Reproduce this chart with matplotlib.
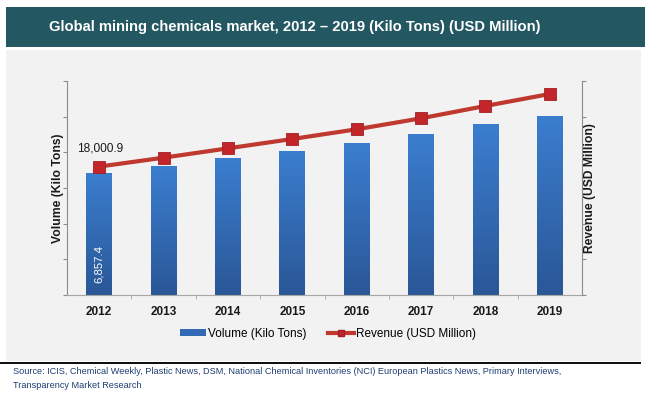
import numpy as np
import matplotlib
matplotlib.use('Agg')
import matplotlib.pyplot as plt
from matplotlib.patches import Rectangle, Patch
from matplotlib.lines import Line2D
from matplotlib.colors import LinearSegmentedColormap

plt.rcParams['font.family'] = ['Liberation Sans', 'DejaVu Sans']

years = ['2012', '2013', '2014', '2015', '2016', '2017', '2018', '2019']
volume = [6857.4, 7230, 7660, 8075, 8505, 9010, 9570, 10055]       # kilo tons
revenue = [18000.9, 19250, 20560, 21870, 23230, 24770, 26500, 28180]  # USD million

HEADER = '#235762'
PANEL = '#f2f2f2'
LINE_RED = '#c0392f'
BAR_TOP = '#3b7ecf'
BAR_BOT = '#2a5797'

fig = plt.figure(figsize=(6.5, 3.98), dpi=100, facecolor='white')
W, H = 650.0, 398.0


def fx(px):
    return px / W


def fy(py):
    return 1 - py / H


# background blocks
fig.patches.append(Rectangle((fx(6), fy(361)), fx(635), (361 - 50) / H,
                             transform=fig.transFigure, facecolor=PANEL,
                             edgecolor='none', zorder=-2))
fig.patches.append(Rectangle((fx(6), fy(47)), fx(639), 40 / H,
                             transform=fig.transFigure, facecolor=HEADER,
                             edgecolor='none', zorder=-2))
fig.patches.append(Rectangle((0, fy(364)), fx(641), 2.5 / H,
                             transform=fig.transFigure, facecolor='#111111',
                             edgecolor='none', zorder=-2))

fig.text(fx(49), fy(27), 'Global mining chemicals market, 2012 \u2013 2019 (Kilo Tons) (USD Million)',
         color='white', fontsize=10.65, fontweight='bold', va='center', ha='left')

ax = fig.add_axes([fx(67), fy(295), fx(582 - 67), (295 - 81) / H])
ax.patch.set_alpha(0)

x = np.arange(len(years))
bars = ax.bar(x, volume, width=0.4, color='#3169b5', edgecolor='none', zorder=2)

# vertical gradient on the bars
cmap = LinearSegmentedColormap.from_list('barfade', [BAR_BOT, BAR_TOP])
grad = np.linspace(0, 1, 256).reshape(-1, 1)
for b in bars:
    x0, w, h = b.get_x(), b.get_width(), b.get_height()
    im = ax.imshow(grad, extent=[x0, x0 + w, 0, h], origin='lower', cmap=cmap,
                   aspect='auto', zorder=2.1)
    im.set_clip_path(b)

ax.set_xlim(-0.5, len(years) - 0.5)
ax.set_ylim(0, 12000)
ax.set_yticks(np.arange(0, 12001, 2000))
ax.set_yticklabels([])
ax.set_xticks(x)
ax.set_xticklabels(years, fontsize=8.5, fontweight='bold', color='#1a1a1a')
ax.set_xticks(np.arange(0.5, len(years) - 1, 1.0), minor=True)
ax.tick_params(axis='x', which='major', length=0, pad=8)
ax.tick_params(axis='x', which='minor', length=3, color='#a6a6a6', direction='out')
ax.tick_params(axis='y', length=3, color='#8c8c8c', direction='out')
ax.spines['top'].set_visible(False)
ax.spines['right'].set_visible(False)
ax.spines['left'].set_color('#8c8c8c')
ax.spines['bottom'].set_color('#a6a6a6')

ax.text(0, 1750, f'{volume[0]:,.1f}', rotation=90, color='white', fontsize=8.2,
        ha='center', va='center', zorder=5)

ax2 = ax.twinx()
ax2.patch.set_alpha(0)
ax2.plot(x, revenue, color=LINE_RED, lw=3, marker='s', ms=8,
         markerfacecolor='#c2262a', markeredgecolor='#a31f22', markeredgewidth=0.6,
         solid_capstyle='round')
ax2.set_ylim(0, 30000)
ax2.set_yticks(np.arange(0, 30001, 5000))
ax2.set_yticklabels([])
ax2.tick_params(axis='y', length=3, color='#8c8c8c', direction='out')
ax2.spines['top'].set_visible(False)
ax2.spines['left'].set_visible(False)
ax2.spines['bottom'].set_visible(False)
ax2.spines['right'].set_color('#8c8c8c')
ax2.annotate(f'{revenue[0]:,.1f}', xy=(0, revenue[0]), xytext=(1, 13),
             textcoords='offset points', ha='center', va='center', fontsize=8.6,
             color='#1a1a1a')

fig.text(fx(58.5), fy(188), 'Volume (Kilo Tons)', rotation=90, fontsize=8.7,
         fontweight='bold', ha='center', va='center', color='#1a1a1a')
fig.text(fx(589.5), fy(188), 'Revenue (USD Million)', rotation=90, fontsize=8.7,
         fontweight='bold', ha='center', va='center', color='#1a1a1a')

handles = [Patch(facecolor='#3169b5', edgecolor='none'),
           Line2D([], [], color=LINE_RED, lw=3, marker='s', ms=5,
                  markerfacecolor='#c2262a', markeredgecolor='#a31f22')]
fig.legend(handles, ['Volume (Kilo Tons)', 'Revenue (USD Million)'],
           loc='center', bbox_to_anchor=(fx(328), fy(334)), ncol=2, frameon=False,
           fontsize=8.5, handlelength=2.2, handleheight=0.5, handletextpad=0.2,
           columnspacing=1.8)

src_color = '#1f3d73'
fig.text(fx(13), fy(371), 'Source: ICIS, Chemical Weekly, Plastic News, DSM, National Chemical Inventories (NCI) '
         'European Plastics News, Primary Interviews,', fontsize=6.55, color=src_color,
         ha='left', va='center')
fig.text(fx(13), fy(386), 'Transparency Market Research', fontsize=6.55, color=src_color,
         ha='left', va='center')

fig.savefig('out.png', dpi=100, facecolor='white')
